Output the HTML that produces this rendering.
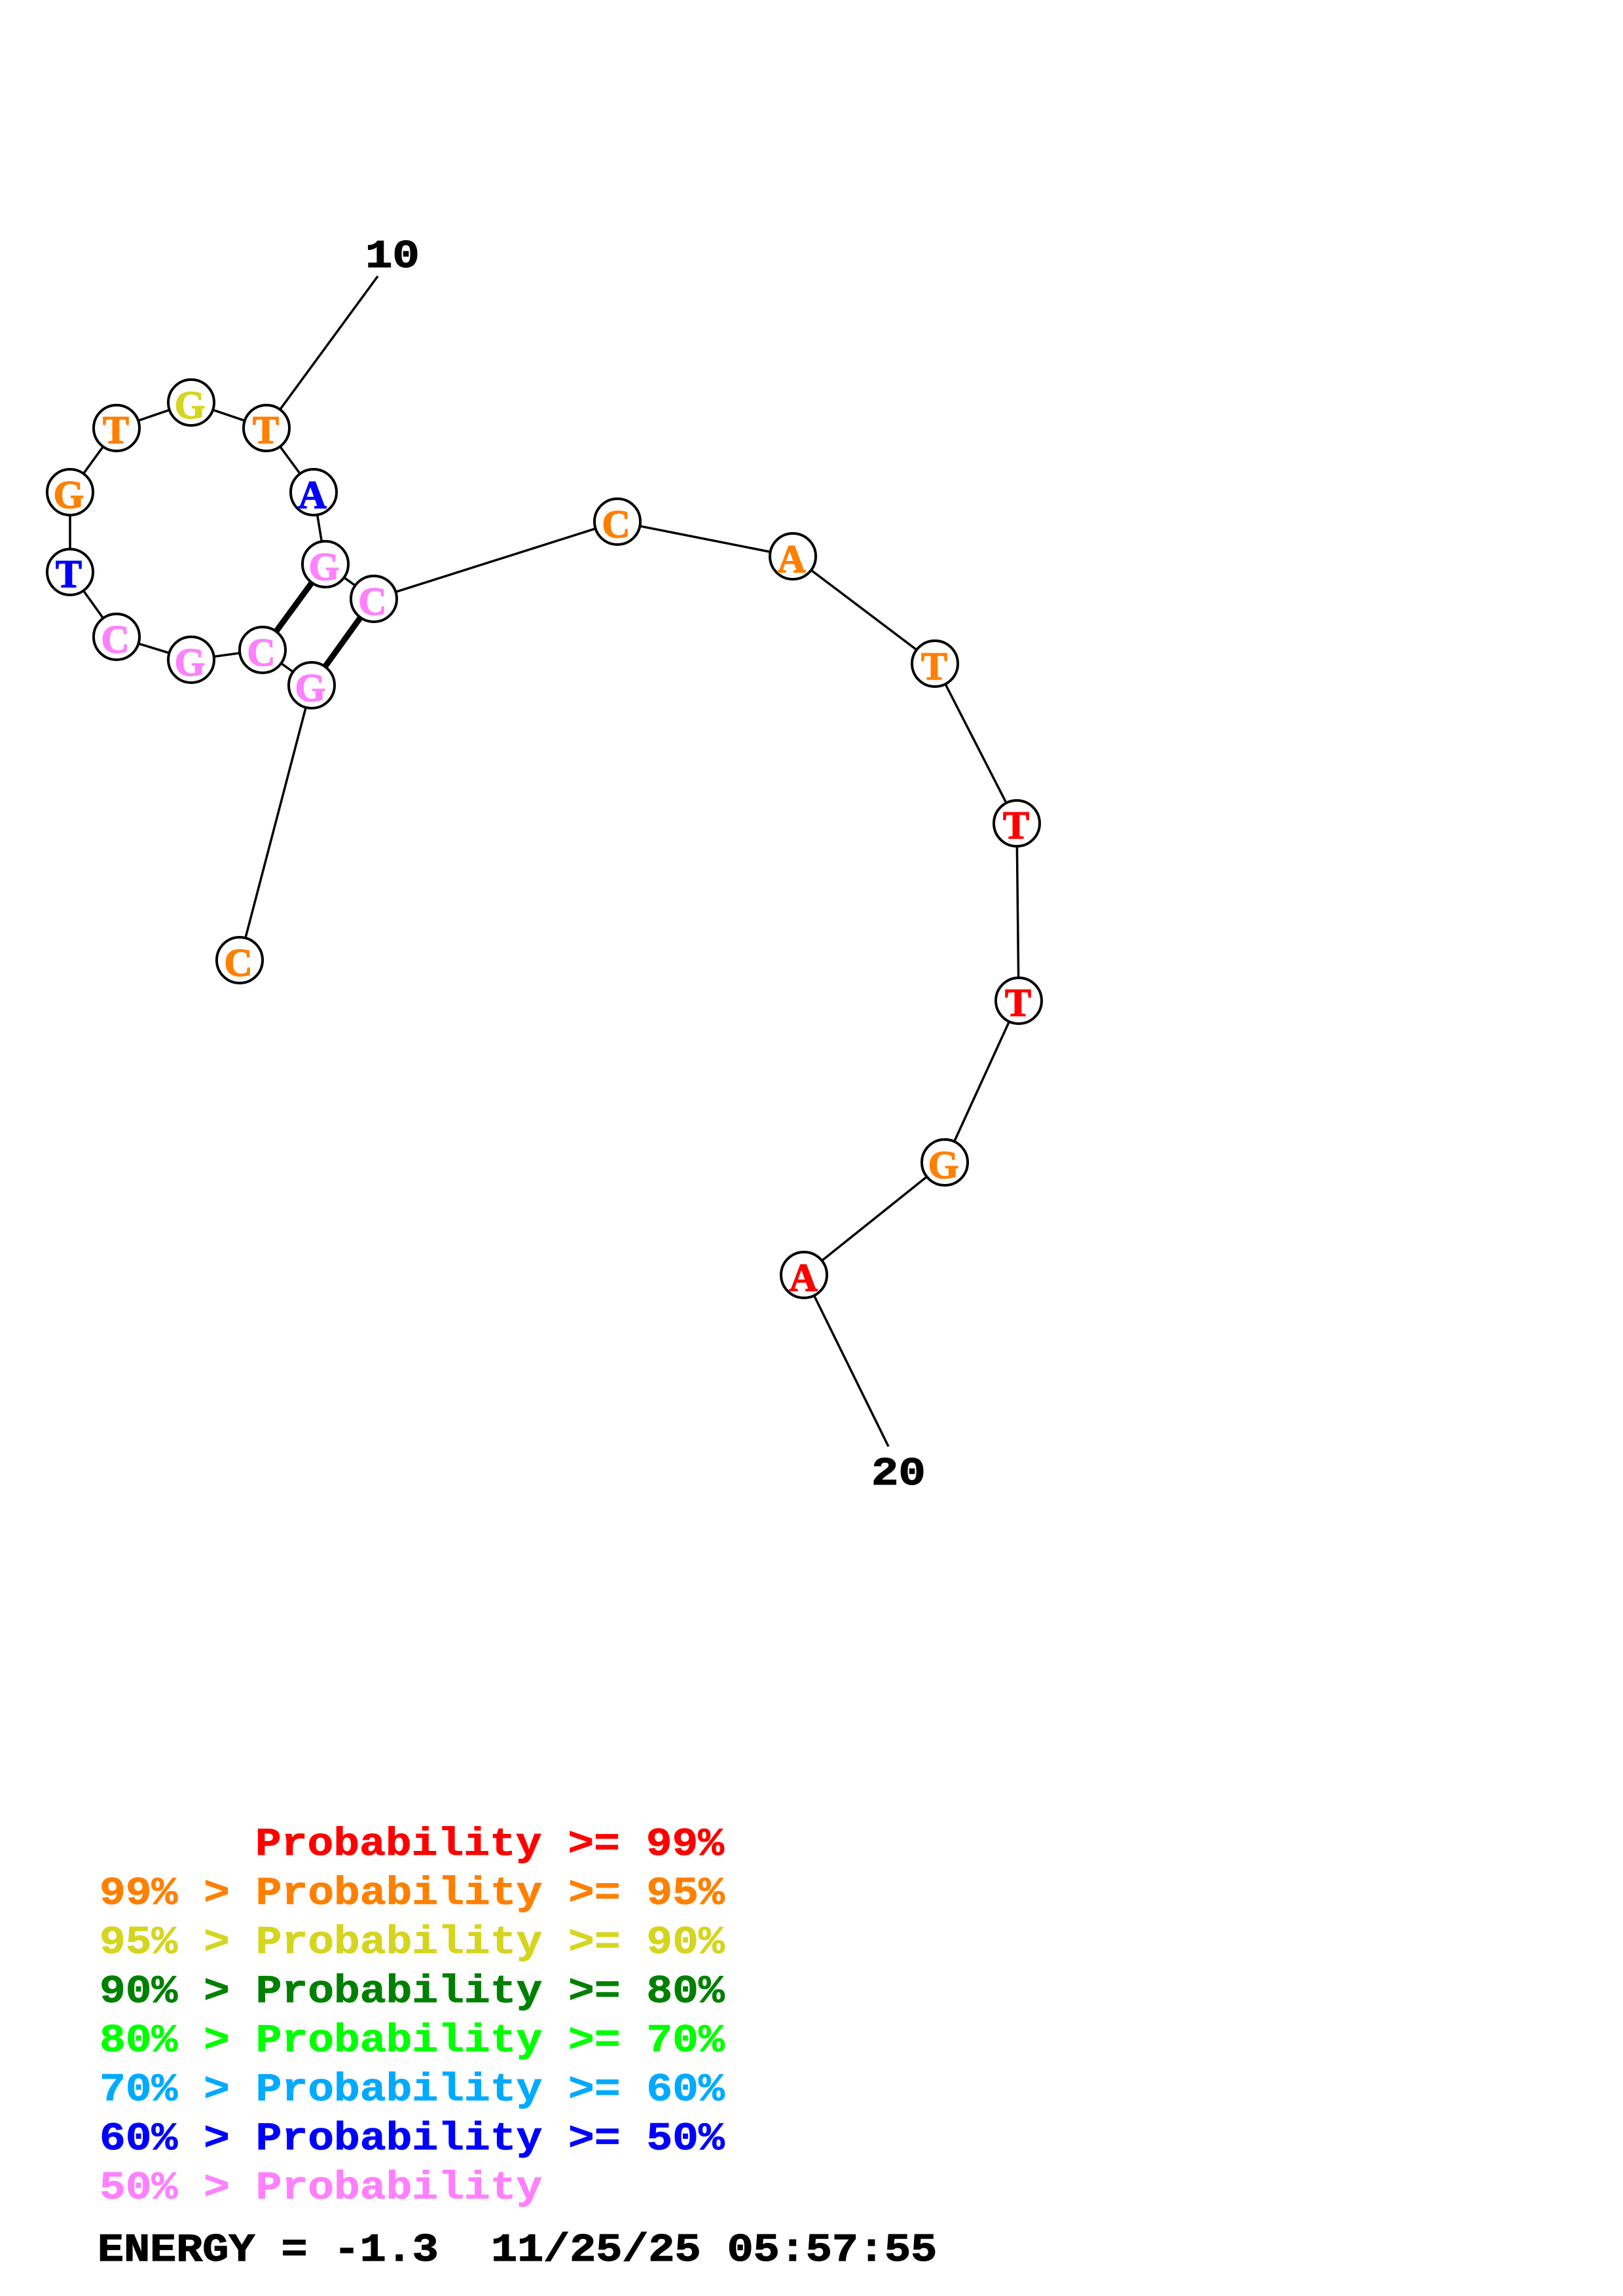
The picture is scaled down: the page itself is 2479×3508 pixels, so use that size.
<!DOCTYPE html>
<html><head><meta charset="utf-8"><style>
html,body{margin:0;padding:0;background:#fff}
svg{display:block}
.n{font-family:"Liberation Serif",serif;font-weight:bold;font-size:60px;text-anchor:middle;stroke-width:1.5px}
.l{font-family:"Liberation Mono",monospace;font-weight:bold;font-size:60px;white-space:pre;stroke-width:0.8px}
.k{font-family:"Liberation Mono",monospace;font-weight:bold;font-size:60px;fill:#000;stroke:#000;stroke-width:1.2px;white-space:pre}
</style></head><body>
<svg width="2479" height="3508" viewBox="0 0 2479 3508" xmlns="http://www.w3.org/2000/svg">
<rect width="2479" height="3508" fill="#fff"/>
<polyline fill="none" stroke="#000" stroke-width="3.5" points="366,1467 476,1047 401,993 292,1008 178,973 107,874 107,752 178,654 292,615 407,654 479,752 497,862 571,915 943,797 1211,850 1428,1014 1553,1258 1556,1529 1443,1776 1228,1948"/>
<line x1="407" y1="654" x2="577" y2="422" stroke="#000" stroke-width="3.5"/>
<line x1="1228" y1="1948" x2="1357" y2="2210" stroke="#000" stroke-width="3.5"/>
<line x1="497" y1="862" x2="401" y2="993" stroke="#000" stroke-width="9"/>
<line x1="571" y1="915" x2="476" y2="1047" stroke="#000" stroke-width="9"/>
<g fill="#fff" stroke="#000" stroke-width="4">
<circle cx="366" cy="1467" r="35"/><circle cx="476" cy="1047" r="35"/><circle cx="401" cy="993" r="35"/><circle cx="292" cy="1008" r="35"/><circle cx="178" cy="973" r="35"/><circle cx="107" cy="874" r="35"/><circle cx="107" cy="752" r="35"/><circle cx="178" cy="654" r="35"/><circle cx="292" cy="615" r="35"/><circle cx="407" cy="654" r="35"/><circle cx="479" cy="752" r="35"/><circle cx="497" cy="862" r="35"/><circle cx="571" cy="915" r="35"/><circle cx="943" cy="797" r="35"/><circle cx="1211" cy="850" r="35"/><circle cx="1428" cy="1014" r="35"/><circle cx="1553" cy="1258" r="35"/><circle cx="1556" cy="1529" r="35"/><circle cx="1443" cy="1776" r="35"/><circle cx="1228" cy="1948" r="35"/>
</g>
<g>
<text class="n" x="364" y="1491" fill="#ff8000" stroke="#ff8000">C</text>
<text class="n" x="474" y="1071" fill="#ff80ff" stroke="#ff80ff">G</text>
<text class="n" x="399" y="1017" fill="#ff80ff" stroke="#ff80ff">C</text>
<text class="n" x="290" y="1032" fill="#ff80ff" stroke="#ff80ff">G</text>
<text class="n" x="176" y="997" fill="#ff80ff" stroke="#ff80ff">C</text>
<text class="n" x="105" y="897" fill="#0000ff" stroke="#0000ff">T</text>
<text class="n" x="105" y="776" fill="#ff8000" stroke="#ff8000">G</text>
<text class="n" x="177" y="677" fill="#ff8000" stroke="#ff8000">T</text>
<text class="n" x="290" y="639" fill="#d5d520" stroke="#d5d520">G</text>
<text class="n" x="406" y="677" fill="#ff8000" stroke="#ff8000">T</text>
<text class="n" x="477" y="776" fill="#0000ff" stroke="#0000ff">A</text>
<text class="n" x="495" y="886" fill="#ff80ff" stroke="#ff80ff">G</text>
<text class="n" x="569" y="939" fill="#ff80ff" stroke="#ff80ff">C</text>
<text class="n" x="941" y="821" fill="#ff8000" stroke="#ff8000">C</text>
<text class="n" x="1209" y="874" fill="#ff8000" stroke="#ff8000">A</text>
<text class="n" x="1427" y="1038" fill="#ff8000" stroke="#ff8000">T</text>
<text class="n" x="1552" y="1281" fill="#ff0000" stroke="#ff0000">T</text>
<text class="n" x="1555" y="1552" fill="#ff0000" stroke="#ff0000">T</text>
<text class="n" x="1441" y="1800" fill="#ff8000" stroke="#ff8000">G</text>
<text class="n" x="1227" y="1972" fill="#ff0000" stroke="#ff0000">A</text>
</g>
<text class="k" transform="translate(558,408) scale(1.15,1)">10</text>
<text class="k" transform="translate(1331,2268) scale(1.15,1)">20</text>
<g>
<text class="l" fill="#ff0000" stroke="#ff0000" transform="translate(390,2834) scale(1.105,1)">Probability &gt;= 99%</text>
<text class="l" fill="#ff8000" stroke="#ff8000" transform="translate(152,2909) scale(1.105,1)">99% &gt; Probability &gt;= 95%</text>
<text class="l" fill="#d5d520" stroke="#d5d520" transform="translate(152,2984) scale(1.105,1)">95% &gt; Probability &gt;= 90%</text>
<text class="l" fill="#008000" stroke="#008000" transform="translate(152,3059) scale(1.105,1)">90% &gt; Probability &gt;= 80%</text>
<text class="l" fill="#00ff00" stroke="#00ff00" transform="translate(152,3134) scale(1.105,1)">80% &gt; Probability &gt;= 70%</text>
<text class="l" fill="#00aaff" stroke="#00aaff" transform="translate(152,3209) scale(1.105,1)">70% &gt; Probability &gt;= 60%</text>
<text class="l" fill="#0000ff" stroke="#0000ff" transform="translate(152,3284) scale(1.105,1)">60% &gt; Probability &gt;= 50%</text>
<text class="l" fill="#ff80ff" stroke="#ff80ff" transform="translate(152,3359) scale(1.105,1)">50% &gt; Probability</text>
</g>
<text class="k" transform="translate(149,3454) scale(1.113,1)">ENERGY = -1.3  11/25/25 05:57:55</text>
</svg>
</body></html>
